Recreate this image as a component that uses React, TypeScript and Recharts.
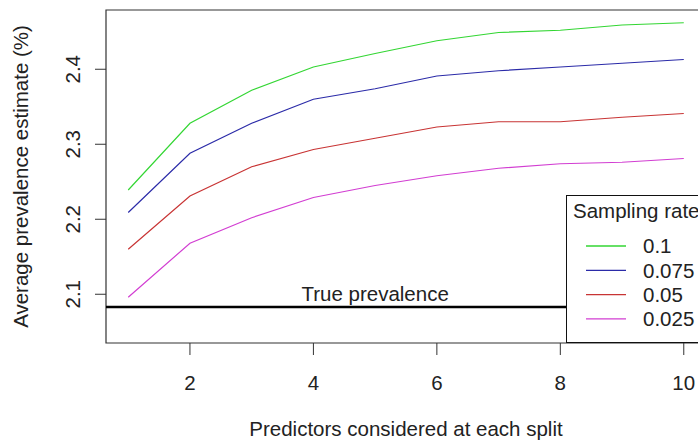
import React from 'react';
import { LineChart, Line, XAxis, YAxis, ReferenceLine, ReferenceDot, ReferenceArea, Legend } from 'recharts';

// predictors considered at each split (mtry)
const predictors = [1, 2, 3, 4, 5, 6, 7, 8, 9, 10];

// average prevalence estimate (%) by sampling rate
const rate0100 = [2.239, 2.328, 2.372, 2.403, 2.421, 2.438, 2.449, 2.452, 2.459, 2.462];
const rate0075 = [2.209, 2.288, 2.328, 2.360, 2.374, 2.391, 2.398, 2.403, 2.408, 2.413];
const rate0050 = [2.160, 2.231, 2.270, 2.293, 2.308, 2.323, 2.330, 2.330, 2.336, 2.341];
const rate0025 = [2.096, 2.168, 2.202, 2.229, 2.245, 2.258, 2.268, 2.274, 2.276, 2.281];

const seriesNames = ['0.1', '0.075', '0.05', '0.025'];
const xTicks = [2, 4, 6, 8, 10];
const yTicks = [2.1, 2.2, 2.3, 2.4];
const truePrevalence = 2.083;
const truePrevalenceLabelAt = 5;

const xDomain = [0.64, 10.36];
const yDomain = [2.035, 2.479];

const data = predictors.map((p, i) => ({
  p,
  r0100: rate0100[i],
  r0075: rate0075[i],
  r0050: rate0050[i],
  r0025: rate0025[i],
}));

const FONT = '"Liberation Sans", Arial, Helvetica, sans-serif';
const FS = 20.5;
const INK = '#222';

const YTick = ({ x, y, payload }: any) => (
  <text x={x} y={y} transform={`rotate(-90, ${x}, ${y})`} textAnchor="middle"
    fill={INK} fontSize={FS} fontFamily={FONT}>
    {payload.value}
  </text>
);

const YTitle = ({ viewBox }: any) => {
  const cx = viewBox.x + 28;
  const cy = viewBox.y + viewBox.height / 2;
  return (
    <text x={cx} y={cy} transform={`rotate(-90, ${cx}, ${cy})`} textAnchor="middle"
      fill={INK} fontSize={FS} fontFamily={FONT}>
      Average prevalence estimate (%)
    </text>
  );
};

const XTitle = ({ viewBox }: any) => (
  <text x={viewBox.x + viewBox.width / 2} y={viewBox.y + 93} textAnchor="middle"
    fill={INK} fontSize={FS} fontFamily={FONT}>
    Predictors considered at each split
  </text>
);

const SamplingLegend = ({ payload }: any) => {
  const items = [...(payload || [])].sort(
    (a: any, b: any) => seriesNames.indexOf(a.value) - seriesNames.indexOf(b.value));
  return (
    <svg width={150} height={149} style={{ display: 'block' }}>
      <rect x={0.5} y={0.5} width={160} height={147} fill="#fff" stroke="#111" />
      <text x={7} y={23} fill={INK} fontSize={FS} fontFamily={FONT}>Sampling rate</text>
      {items.map((item: any, i: number) => {
        const cy = 51 + i * 24.3;
        return (
          <g key={item.value}>
            <line x1={20} x2={60} y1={cy} y2={cy} stroke={item.color} strokeWidth={1.3} />
            <text x={77} y={cy + 7.3} fill={INK} fontSize={FS} fontFamily={FONT}>{item.value}</text>
          </g>
        );
      })}
    </svg>
  );
};

const App: React.FC = () => (
  <div style={{ width: 698, height: 441, overflow: 'hidden', background: '#fff' }}>
    <style>{`body { margin: 0; }`}</style>
    <LineChart width={720} height={441} data={data}
      margin={{ top: 10, right: 14, bottom: 0, left: 0 }}
      style={{ fontFamily: FONT }}>
      <XAxis dataKey="p" type="number" domain={xDomain} ticks={xTicks} allowDataOverflow
        axisLine={false} tickSize={12} tickMargin={20} height={98}
        tickLine={{ stroke: '#333' }} tick={{ fill: INK, fontSize: FS, fontFamily: FONT }}
        label={{ content: XTitle }} />
      <YAxis type="number" domain={yDomain} ticks={yTicks} allowDataOverflow
        axisLine={false} tickSize={11} tickMargin={15} width={106}
        tickLine={{ stroke: '#333' }} tick={YTick}
        label={{ content: YTitle }} />
      <ReferenceArea x1={xDomain[0]} x2={xDomain[1]} y1={yDomain[0]} y2={yDomain[1]}
        fill="none" fillOpacity={0} stroke="#333" strokeWidth={1.2} ifOverflow="visible" />
      <ReferenceLine y={truePrevalence} stroke="#000" strokeWidth={2.5} />
      <ReferenceDot x={truePrevalenceLabelAt} y={truePrevalence} r={0} stroke="none" fill="none"
        label={{ value: 'True prevalence', position: 'top', offset: 6, fill: INK, fontSize: FS, fontFamily: FONT }} />
      <Line dataKey="r0100" name={seriesNames[0]} stroke="#33d633" strokeWidth={1.2} dot={false} isAnimationActive={false} />
      <Line dataKey="r0075" name={seriesNames[1]} stroke="#2b2ba8" strokeWidth={1.2} dot={false} isAnimationActive={false} />
      <Line dataKey="r0050" name={seriesNames[2]} stroke="#c83434" strokeWidth={1.2} dot={false} isAnimationActive={false} />
      <Line dataKey="r0025" name={seriesNames[3]} stroke="#d23ed2" strokeWidth={1.2} dot={false} isAnimationActive={false} />
      <Legend layout="vertical" align="center" verticalAlign="middle" content={SamplingLegend}
        wrapperStyle={{ position: 'absolute', left: 566, top: 195, width: 150, height: 149 }} />
    </LineChart>
  </div>
);

export default App;
